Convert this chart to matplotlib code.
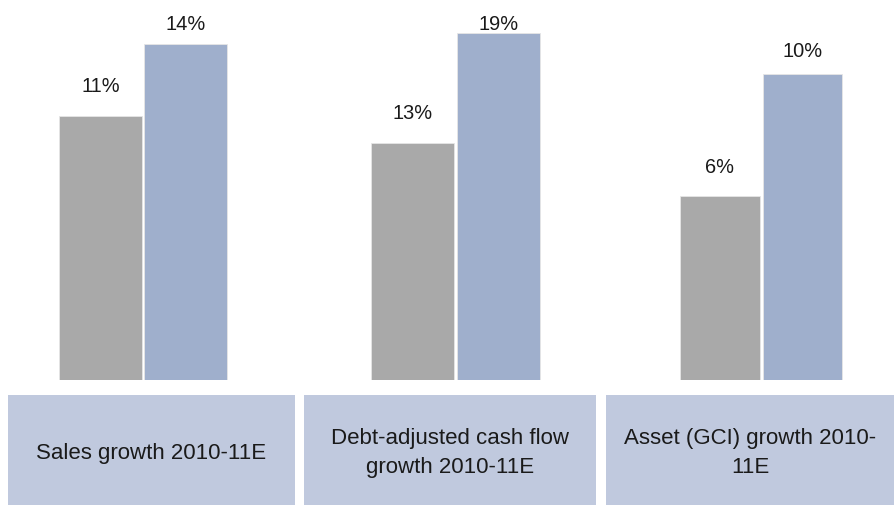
import matplotlib
matplotlib.use("Agg")
import matplotlib.pyplot as plt
from matplotlib.patches import Rectangle

plt.rcParams['font.family'] = ['Liberation Sans', 'DejaVu Sans']

# Data
categories = ["Sales growth 2010-11E",
              "Debt-adjusted cash flow\ngrowth 2010-11E",
              "Asset (GCI) growth 2010-\n11E"]
first_values = [11, 13, 6]     # grey bars
second_values = [14, 19, 10]   # blue bars

# Styling / layout
W, H = 894, 505
GREY = "#a9a9a9"
BLUE = "#9fafcc"
BOX = "#c0c9de"
TEXT = "#1a1a1a"
headroom = [1.131, 1.095, 1.242]          # each panel has its own scale
pair_center_px = [143, 455.5, 761.25]
pair_spacing_px = [85, 86, 82.5]
bar_bottom_px = 380
label_gap_px = [(30, 20), (29, 8.5), (28.5, 22.5)]
boxes_px = [(8, 295), (304, 596), (606, 894)]
box_top_px, box_bottom_px = 395, 505

fig = plt.figure(figsize=(W / 100, H / 100), dpi=100)
fig.patch.set_facecolor("white")

for i in range(3):
    sp = pair_spacing_px[i]
    left = (pair_center_px[i] - sp) / W
    ax = fig.add_axes([left, (H - bar_bottom_px) / H, 2 * sp / W, bar_bottom_px / H])
    vals = [first_values[i], second_values[i]]
    bars = ax.bar([0, 1], vals, width=0.965, color=[GREY, BLUE],
                  edgecolor="#e6e6e6", linewidth=0.6)
    ax.set_xlim(-0.5, 1.5)
    ax.set_ylim(0, max(vals) * headroom[i])
    ax.axis("off")
    for b, v, gap in zip(bars, vals, label_gap_px[i]):
        ax.annotate(f"{v}%", (b.get_x() + b.get_width() / 2, v),
                    xytext=(0, gap * 0.72), textcoords="offset points",
                    ha="center", va="center", fontsize=14.4, color=TEXT)

# Category boxes below the bars
for (x0, x1), label in zip(boxes_px, categories):
    fig.add_artist(Rectangle((x0 / W, (H - box_bottom_px) / H),
                             (x1 - x0) / W, (box_bottom_px - box_top_px) / H,
                             transform=fig.transFigure, facecolor=BOX,
                             edgecolor="none"))
    fig.text((x0 + x1) / 2 / W, (H - 453) / H, label, ha="center", va="center",
             fontsize=16, color=TEXT, linespacing=1.55)

fig.savefig("out.png", dpi=100)
